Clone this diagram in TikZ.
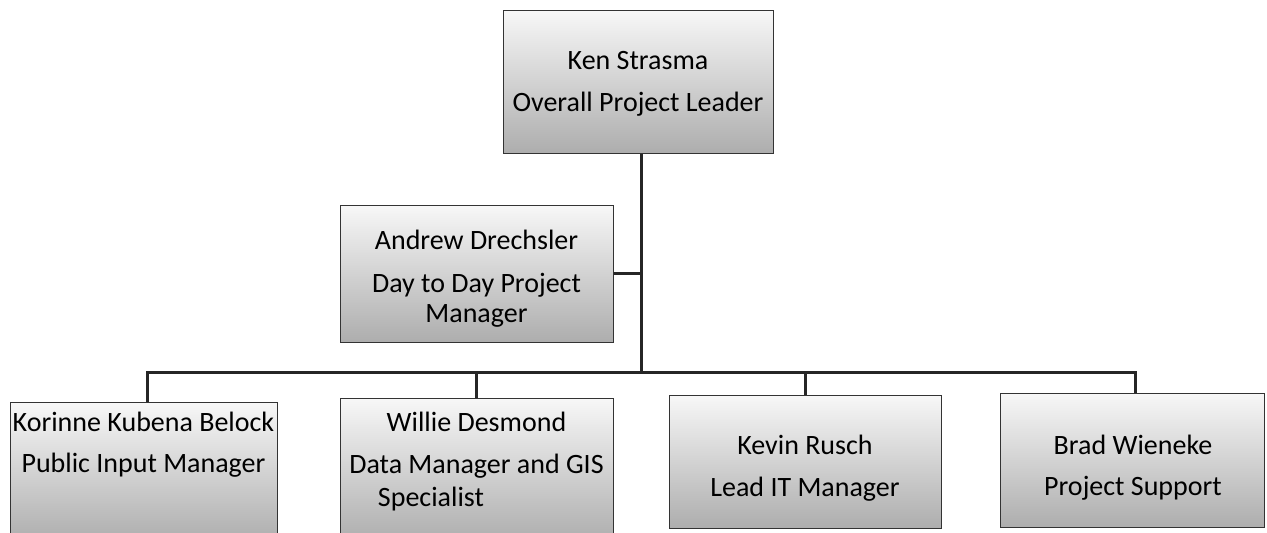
\documentclass[tikz,border=0pt]{standalone}
\usepackage{fontspec}
\setmainfont{Carlito}
\begin{document}
\begin{tikzpicture}[x=1pt,y=-1pt,
  box/.style={draw=black!80,line width=1pt,rectangle,inner sep=0pt,
    top color=black!3,bottom color=black!32,shading angle=0},
  txt/.style={font=\fontsize{28}{34}\selectfont,text=black,inner sep=0pt,anchor=base},
  conn/.style={line width=3pt,draw=black!85}]
\useasboundingbox (0,0) rectangle (1267,533);
\begin{scope}
\clip (0,0) rectangle (1267,533);
\node[box,minimum width=270pt,minimum height=143pt] (ken) at (638,81.5) {};
\node[box,minimum width=273pt,minimum height=137pt] (andrew) at (476.5,273.5) {};
\node[box,minimum width=267pt,minimum height=140pt] (korinne) at (143.5,472) {};
\node[box,minimum width=273pt,minimum height=144pt] (willie) at (476.5,470) {};
\node[box,minimum width=272pt,minimum height=133pt] (kevin) at (805,461.5) {};
\node[box,minimum width=264pt,minimum height=134pt] (brad) at (1132,460) {};
\end{scope}
\coordinate (J) at (641,372);
\draw[conn] (J |- ken.south) -- (J);
\draw[conn] (andrew.east) -- (andrew.east -| J);
\draw[conn] ([xshift=4pt]korinne.north) |- (J) -| ([xshift=3pt]brad.north);
\draw[conn] (willie.north) -- (willie.north |- J);
\draw[conn] (kevin.north) -- (kevin.north |- J);
\node[txt] (t1) at (638,69) {Ken Strasma};
\node[txt] (t2) at (638,111) {Overall Project Leader};
\node[txt] (t3) at (476.5,249) {Andrew Drechsler};
\node[txt] (t4) at (476.5,292) {Day to Day Project};
\node[txt] (t5) at (476.5,322) {Manager};
\node[txt] (t6) at (143.5,431) {Korinne Kubena Belock};
\node[txt] (t7) at (143.5,472) {Public Input Manager};
\node[txt] (t8) at (476.5,431) {Willie Desmond};
\node[txt] (t9) at (476.5,473) {Data Manager and GIS};
\node[txt] (t10) at (431,506) {Specialist};
\node[txt] (t11) at (805,454) {Kevin Rusch};
\node[txt] (t12) at (805,496) {Lead IT Manager};
\node[txt] (t13) at (1133,454) {Brad Wieneke};
\node[txt] (t14) at (1133,495) {Project Support};
\end{tikzpicture}
\end{document}
